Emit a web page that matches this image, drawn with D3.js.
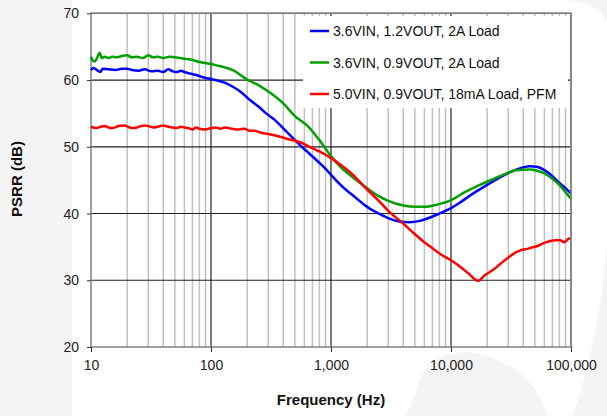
<!DOCTYPE html>
<html><head><meta charset="utf-8">
<script src="https://cdn.jsdelivr.net/npm/d3@7"></script>
<style>body{margin:0;background:#fff}svg{display:block;font-family:"Liberation Sans",Arial,sans-serif}</style>
</head><body><svg id="c" width="607" height="416"></svg>
<script>
// ---- data ----
const seriesNames = ["3.6VIN, 1.2VOUT, 2A Load", "3.6VIN, 0.9VOUT, 2A Load", "5.0VIN, 0.9VOUT, 18mA Load, PFM"];
const seriesColors = ["#0000ff", "#00a000", "#ff0000"];
const xTicks = [10, 100, 1000, 10000, 100000];
const yTicks = [20, 30, 40, 50, 60, 70];

const blueFreq = [10,10.5,11,12,12.5,14,16,18,20,22,25,28,32,36,40,44,48,52,56,60,66,74,80,89,100,115,130,152,175,211,250,288,341,400,470,552,630,705,800,890,1000,1250,1600,2000,2500,3000,3700,4500,5500,6700,8000,10000,12000,15000,20000,25000,31000,38000,45000,52000,60000,70000,80000,90000,100000];
const blueDb   = [61.5,61.8,61.6,61.2,61.7,61.6,61.5,61.7,61.7,61.5,61.4,61.6,61.3,61.4,61.2,61.6,61.3,61.2,61.4,61.2,61.0,60.8,60.6,60.35,60.15,59.9,59.6,59.0,58.3,57.0,56.0,55.0,54.0,52.75,51.5,50.25,49.3,48.5,47.6,46.8,45.8,44.0,42.4,41.0,40.0,39.3,38.8,38.7,38.9,39.4,40.0,40.8,41.7,42.9,44.3,45.3,46.2,46.8,47.1,47.0,46.5,45.6,44.6,43.8,43.0];

const greenFreq = [10,10.4,10.8,11.3,11.8,12.3,13,14,15,16.5,18,20,22,24,27,30,33,36,40,45,50,55,60,70,80,90,100,111,130,152,199,250,288,400,500,650,800,1000,1200,1500,2000,2500,3000,4000,5000,6000,7500,10000,13000,17000,22000,28000,35000,45000,52000,60000,70000,80000,90000,100000];
const greenDb   = [63.5,62.9,62.8,63.4,64.1,63.3,63.5,63.3,63.5,63.4,63.6,63.7,63.4,63.5,63.3,63.7,63.4,63.5,63.3,63.5,63.4,63.3,63.2,63.0,62.7,62.55,62.4,62.2,61.9,61.5,60.1,59.2,58.5,56.5,54.6,53.0,51.0,48.6,47.0,45.5,43.8,42.6,41.9,41.2,41.0,41.0,41.3,42.0,43.2,44.2,45.1,45.9,46.5,46.6,46.4,46.0,45.2,44.3,43.2,42.2];

const redFreq = [10,11,12,13,14,15,17,19,21,23,25,28,30,33,36,40,44,48,52,56,60,65,70,75,80,90,100,110,120,130,150,170,190,210,230,260,300,376,450,537,600,705,800,1000,1200,1500,2000,2500,3000,4000,5000,6000,7000,8500,10000,12000,14000,16800,19000,22600,26000,31000,35000,40000,43000,47000,52000,58000,65000,75000,81000,88000,95000,100000];
const redDb   = [53.0,52.8,53.0,53.1,52.9,52.8,53.1,53.2,52.9,52.8,53.0,53.2,53.1,52.9,53.0,53.2,53.0,52.9,52.8,53.0,52.9,52.8,52.6,52.9,52.7,52.6,52.8,52.9,52.7,52.9,52.7,52.6,52.7,52.4,52.4,52.1,51.9,51.5,51.1,50.75,50.4,49.75,49.3,48.3,47.3,45.9,43.6,41.9,40.4,38.5,36.9,35.7,34.8,33.7,33.0,32.0,31.0,29.9,30.7,31.6,32.5,33.6,34.2,34.6,34.7,34.9,35.1,35.5,35.8,36.0,36.0,35.7,36.2,36.3];

const seriesFreq = [blueFreq, greenFreq, redFreq];
const seriesDb = [blueDb, greenDb, redDb];

// ---- chart ----
const svg = d3.select("#c");
const L = 91, R = 571, T = 13.3, B = 347;
const x = d3.scaleLog().domain([10, 100000]).range([L, R]);
const y = d3.scaleLinear().domain([20, 70]).range([B, T]);

// background (faint watermark)
svg.append("rect").attr("width",607).attr("height",416).attr("fill","#f4f4f4");
svg.append("path").attr("d","M72,0 H565 Q598,2 607,22 V240 Q600,340 572,416 H548 Q530,362 470,352 Q430,352 420,380 Q412,405 405,416 H72 Z").attr("fill","#ffffff");
svg.append("rect").attr("x",L).attr("y",T).attr("width",R-L).attr("height",B-T).attr("fill","#fff");

// minor vertical grid
const minor = [];
for (let d = 10; d < 100000; d *= 10) for (let k = 2; k <= 9; k++) minor.push(d*k);
svg.append("g").selectAll("line").data(minor).join("line")
  .attr("x1", d => x(d)).attr("x2", d => x(d)).attr("y1", T).attr("y2", B)
  .attr("stroke", "#c0c0c0").attr("stroke-width", 1.5);
// major grid
svg.append("g").selectAll("line").data(xTicks.slice(1, -1)).join("line")
  .attr("x1", d => x(d)).attr("x2", d => x(d)).attr("y1", T).attr("y2", B)
  .attr("stroke", "#222").attr("stroke-width", 1.2);
svg.append("g").selectAll("line").data(yTicks.slice(1, -1)).join("line")
  .attr("x1", L).attr("x2", R).attr("y1", d => y(d)).attr("y2", d => y(d))
  .attr("stroke", "#222").attr("stroke-width", 1.2);

// frame
svg.append("rect").attr("x",L).attr("y",T).attr("width",R-L).attr("height",B-T)
  .attr("fill","none").attr("stroke","#808080").attr("stroke-width",1.5);

// axes
const yAxis = svg.append("g").attr("transform",`translate(${L},0)`)
  .call(d3.axisLeft(y).tickValues(yTicks).tickSize(4).tickPadding(8).tickFormat(d3.format("d")));
const xAxis = svg.append("g").attr("transform",`translate(0,${B})`)
  .call(d3.axisBottom(x).tickValues(xTicks).tickSize(5).tickPadding(8).tickFormat(d3.format(",")));
[yAxis, xAxis].forEach(g => {
  g.select(".domain").remove();
  g.selectAll(".tick line").attr("stroke","#333");
  g.selectAll("text").attr("font-size",14).attr("fill","#222").attr("font-family","'Liberation Sans',Arial,sans-serif");
});

// lines
const line = d3.line().x(d => x(d[0])).y(d => y(d[1])).curve(d3.curveMonotoneX);
seriesNames.forEach((n, i) => {
  const pts = seriesFreq[i].map((f, j) => [f, seriesDb[i][j]]);
  svg.append("path").datum(pts).attr("d", line).attr("fill","none")
    .attr("stroke", seriesColors[i]).attr("stroke-width", 2.5).attr("stroke-linejoin","round");
});

// legend
const lg = svg.append("g");
lg.append("rect").attr("x",303).attr("y",16).attr("width",R-303-3).attr("height",92).attr("fill","#fff");
seriesNames.forEach((n, i) => {
  const yy = 31 + i*31.5;
  lg.append("line").attr("x1",310).attr("x2",329).attr("y1",yy).attr("y2",yy)
    .attr("stroke",seriesColors[i]).attr("stroke-width",2.5);
  lg.append("text").attr("x",333).attr("y",yy+5).attr("font-size",14).attr("fill","#111").text(n);
});
svg.append("line").attr("x1",R).attr("x2",R).attr("y1",T).attr("y2",B).attr("stroke","#808080").attr("stroke-width",1.5);
svg.append("line").attr("x1",L).attr("x2",R).attr("y1",T).attr("y2",T).attr("stroke","#808080").attr("stroke-width",1.5);

// titles
svg.append("text").attr("x", (L+R)/2).attr("y", 405).attr("text-anchor","middle")
  .attr("font-weight","bold").attr("font-size",15).attr("fill","#111").text("Frequency (Hz)");
svg.append("text").attr("transform","translate(21.5,179) rotate(-90)").attr("text-anchor","middle")
  .attr("font-weight","bold").attr("font-size",15).attr("fill","#111").text("PSRR (dB)");
</script></body></html>
